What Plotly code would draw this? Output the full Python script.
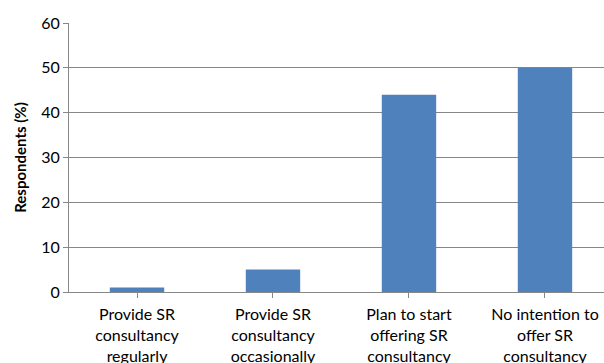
import plotly.graph_objects as go

categories = [
    "Provide SR<br>consultancy<br>regularly",
    "Provide SR<br>consultancy<br>occasionally",
    "Plan to start<br>offering SR<br>consultancy",
    "No intention to<br>offer SR<br>consultancy",
]
respondents_pct = [1, 5, 44, 50]
y_ticks = [0, 10, 20, 30, 40, 50, 60]

axis_grey = "#878787"
bar_blue = "#4f81bd"
font_family = "Lato, 'Open Sans', Arial, sans-serif"

fig = go.Figure(
    go.Bar(
        x=list(range(len(categories))),
        y=respondents_pct,
        marker=dict(color=bar_blue, line=dict(width=0)),
        width=0.4,
    )
)

fig.update_layout(
    width=604,
    height=363,
    margin=dict(l=69, r=0, t=23, b=71),
    paper_bgcolor="white",
    plot_bgcolor="white",
    showlegend=False,
    font=dict(family=font_family, size=16, color="#000000"),
)

fig.update_xaxes(
    tickmode="array",
    tickvals=list(range(len(categories))),
    ticktext=categories,
    range=[-0.5, 3.434],
    tickson="boundaries",
    ticks="outside",
    ticklen=5,
    tickcolor=axis_grey,
    tickwidth=1,
    showline=True,
    linecolor=axis_grey,
    linewidth=1,
    showgrid=False,
    zeroline=False,
    automargin=False,
    tickfont=dict(size=16),
    ticklabelstandoff=3,
    fixedrange=True,
)

fig.update_yaxes(
    range=[0, 60],
    tickmode="array",
    tickvals=y_ticks,
    ticks="outside",
    ticklen=5,
    tickcolor=axis_grey,
    showline=True,
    linecolor=axis_grey,
    linewidth=1,
    showgrid=True,
    gridcolor=axis_grey,
    gridwidth=1,
    zeroline=False,
    automargin=False,
    tickfont=dict(size=16),
    title=dict(
        text="<b>Respondents (%)</b>",
        font=dict(size=15),
        standoff=10,
    ),
    fixedrange=True,
)

fig.write_html("out.html")
